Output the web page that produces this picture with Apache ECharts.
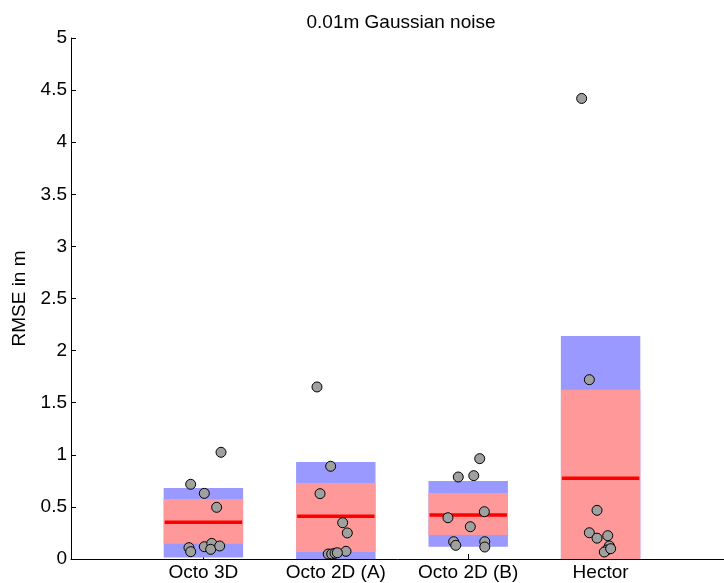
<!DOCTYPE html>
<html>
<head>
<meta charset="utf-8">
<title>0.01m Gaussian noise</title>
<script src="https://cdn.jsdelivr.net/npm/echarts@6/dist/echarts.min.js"></script>
<style>
  html, body { margin: 0; padding: 0; background: #fff; }
  #chart { width: 724px; height: 583px; }
</style>
</head>
<body>
<div id="chart"></div>
<script>
// Groups along the x axis (placed at 1, 2, 3, 4)
const categories = ['Octo 3D', 'Octo 2D (A)', 'Octo 2D (B)', 'Hector'];

// Mean RMSE per group
const means = [0.352, 0.41, 0.422, 0.774];
// Mean ± SD band (blue)
const sdLow  = [0.015, -0.11, 0.118, -0.59];
const sdHigh = [0.681, 0.931, 0.749, 2.14];
// 95% confidence band (red)
const ciLow  = [0.147, 0.067, 0.23, -0.08];
const ciHigh = [0.576, 0.729, 0.633, 1.625];

// Individual runs per group (RMSE in m)
const runsOcto3D  = [1.024, 0.717, 0.630, 0.496, 0.109, 0.070, 0.118, 0.150, 0.093, 0.125];
const runsOcto2DA = [1.651, 0.890, 0.627, 0.348, 0.250, 0.074, 0.048, 0.048, 0.055, 0.060];
const runsOcto2DB = [0.963, 0.787, 0.800, 0.454, 0.396, 0.310, 0.166, 0.131, 0.166, 0.115];
const runsHector  = [4.420, 1.721, 0.467, 0.252, 0.200, 0.224, 0.125, 0.086, 0.067, 0.099];

// Horizontal jitter of each run around its group centre
const jitOcto3D  = [0.133, -0.096, 0.007, 0.100, -0.109, -0.096, 0.007, 0.063, 0.055, 0.123];
const jitOcto2DA = [-0.142, -0.039, -0.119, 0.052, 0.087, 0.077, -0.057, -0.031, -0.006, 0.012];
const jitOcto2DB = [0.087, -0.075, 0.042, 0.122, -0.153, 0.016, -0.110, -0.094, 0.125, 0.125];
const jitHector  = [-0.143, -0.085, -0.027, -0.085, -0.027, 0.054, 0.066, 0.046, 0.028, 0.076];

const yTicks = [0, 0.5, 1, 1.5, 2, 2.5, 3, 3.5, 4, 4.5, 5];

const runs = [runsOcto3D, runsOcto2DA, runsOcto2DB, runsHector];
const jitter = [jitOcto3D, jitOcto2DA, jitOcto2DB, jitHector];

const HALF_W = 0.3; // half width of each band, in x units
const FONT = '"Liberation Sans", Arial, Helvetica, sans-serif';
const FS = 19;

const bandRows = (lo, hi) => categories.map((c, i) => [i + 1, lo[i], hi[i]]);

function bandRenderer(color) {
  return function (params, api) {
    const x = api.value(0), lo = api.value(1), hi = api.value(2);
    const p0 = api.coord([x - HALF_W, hi]);
    const p1 = api.coord([x + HALF_W, lo]);
    const shape = echarts.graphic.clipRectByRect(
      { x: p0[0], y: p0[1], width: p1[0] - p0[0], height: p1[1] - p0[1] },
      { x: params.coordSys.x, y: params.coordSys.y,
        width: params.coordSys.width, height: params.coordSys.height }
    );
    if (!shape) return null;
    return { type: 'rect', shape: shape, style: { fill: color } };
  };
}

function meanRenderer(params, api) {
  const x = api.value(0), m = api.value(1);
  const a = api.coord([x - HALF_W, m]);
  const b = api.coord([x + HALF_W, m]);
  return {
    type: 'line',
    shape: { x1: a[0] + 1, y1: a[1], x2: b[0] - 1, y2: b[1] },
    style: { stroke: '#ff0000', lineWidth: 3.5 }
  };
}

const points = [];
runs.forEach((vals, g) => {
  vals.forEach((v, k) => points.push([g + 1 + jitter[g][k], v]));
});

const chart = echarts.init(document.getElementById('chart'), null, { renderer: 'canvas' });
chart.setOption({
  animation: false,
  backgroundColor: '#ffffff',
  textStyle: { fontFamily: FONT },
  title: {
    text: '0.01m Gaussian noise',
    left: 396,
    top: 8,
    textAlign: 'center',
    textStyle: { fontFamily: FONT, fontSize: FS, fontWeight: 'normal', color: '#000' }
  },
  grid: {
    left: 71, top: 38, width: 662, bottom: 24,
    containLabel: false,
    outerBoundsMode: 'none'
  },
  xAxis: {
    type: 'value',
    min: 0,
    max: 5,
    interval: 1,
    splitLine: { show: false },
    axisLine: { show: true, onZero: false, lineStyle: { color: '#000', width: 1 } },
    axisTick: { show: true, inside: true, length: 5, lineStyle: { color: '#000' } },
    axisLabel: {
      margin: 4,
      fontFamily: FONT,
      fontSize: FS,
      color: '#000',
      hideOverlap: false,
      formatter: v => categories[v - 1] || ''
    }
  },
  yAxis: {
    type: 'value',
    min: yTicks[0],
    max: yTicks[yTicks.length - 1],
    interval: 0.5,
    name: 'RMSE in m',
    nameLocation: 'middle',
    nameGap: 40,
    nameTextStyle: { fontFamily: FONT, fontSize: FS, color: '#000' },
    splitLine: { show: false },
    axisLine: { show: true, lineStyle: { color: '#000', width: 1 } },
    axisTick: { show: true, inside: true, length: 5, lineStyle: { color: '#000' } },
    axisLabel: { margin: 4, fontFamily: FONT, fontSize: FS, color: '#000' }
  },
  series: [
    {
      type: 'custom',
      name: 'SD',
      renderItem: bandRenderer('#9999ff'),
      data: bandRows(sdLow, sdHigh),
      z: 1
    },
    {
      type: 'custom',
      name: '95% CI',
      renderItem: bandRenderer('#ff9999'),
      data: bandRows(ciLow, ciHigh),
      z: 2
    },
    {
      type: 'custom',
      name: 'Mean',
      renderItem: meanRenderer,
      data: categories.map((c, i) => [i + 1, means[i]]),
      z: 3
    },
    {
      type: 'scatter',
      name: 'Runs',
      data: points,
      symbol: 'circle',
      symbolSize: 10,
      itemStyle: { color: '#a0a0a0', borderColor: '#000', borderWidth: 1, opacity: 1 },
      z: 4
    }
  ]
});
</script>
</body>
</html>
